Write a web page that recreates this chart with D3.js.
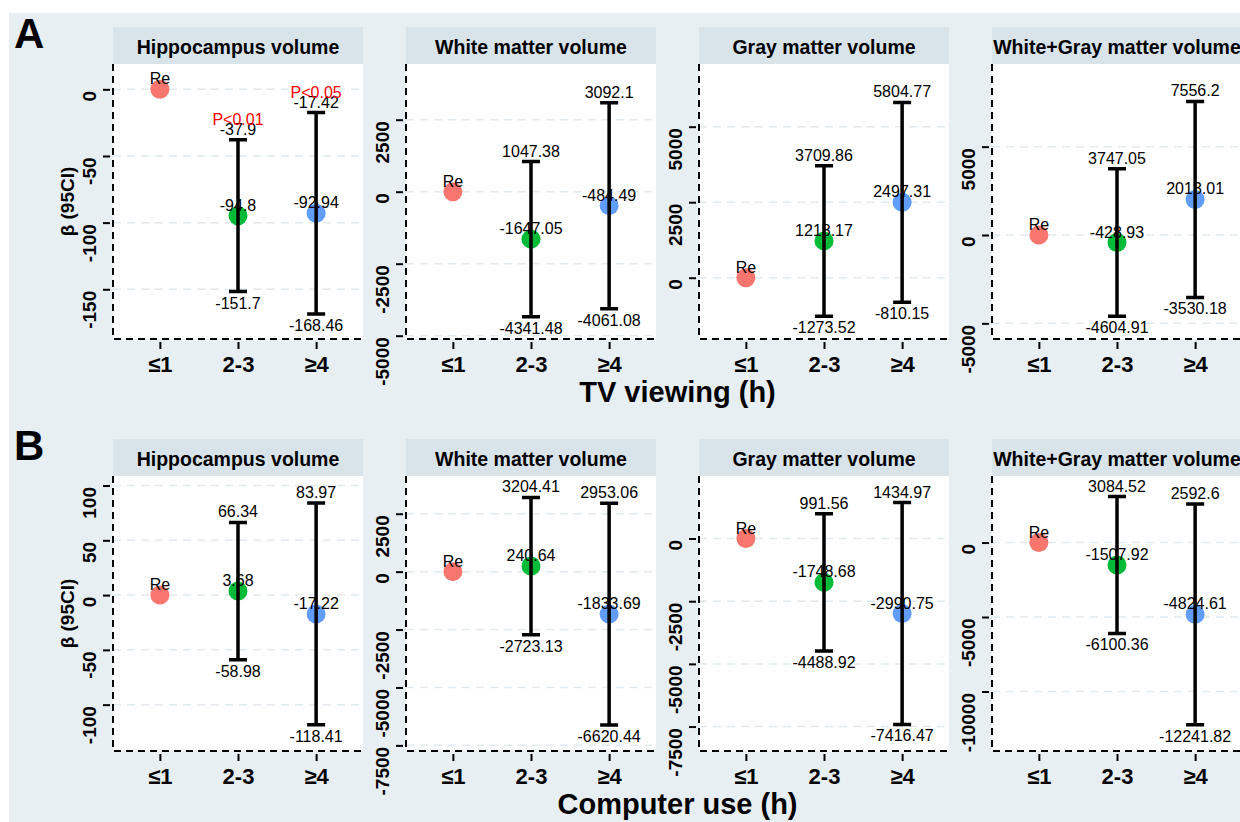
<!DOCTYPE html>
<html>
<head>
<meta charset="utf-8">
<script src="https://cdn.jsdelivr.net/npm/d3@7"></script>
<style>
body { margin: 0; background: #fff; }
text { font-family: "Liberation Sans", Arial, sans-serif; }
</style>
</head>
<body>
<svg id="chart" width="1240" height="822"></svg>
<script>
var svg = d3.select("#chart");

// categories and series
var categories = ["≤1", "2-3", "≥4"];
var pointColors = ["#F8766D", "#00BA38", "#619CFF"];
var outcomes = ["Hippocampus volume", "White matter volume", "Gray matter volume", "White+Gray matter volume"];

// TV viewing: beta, lower and upper 95% CI (reference group has no CI)
var tvEst  = [[0, -94.8, -92.94], [0, -1647.05, -484.49], [0, 1218.17, 2497.31], [0, -428.93, 2013.01]];
var tvLow  = [[null, -151.7, -168.46], [null, -4341.48, -4061.08], [null, -1273.52, -810.15], [null, -4604.91, -3530.18]];
var tvHigh = [[null, -37.9, -17.42], [null, 1047.38, 3092.1], [null, 3709.86, 5804.77], [null, 3747.05, 7556.2]];
var tvP    = [[null, "P<0.01", "P<0.05"], [null, null, null], [null, null, null], [null, null, null]];

// Computer use
var pcEst  = [[0, 3.68, -17.22], [0, 240.64, -1833.69], [0, -1748.68, -2990.75], [0, -1507.92, -4824.61]];
var pcLow  = [[null, -58.98, -118.41], [null, -2723.13, -6620.44], [null, -4488.92, -7416.47], [null, -6100.36, -12241.82]];
var pcHigh = [[null, 66.34, 83.97], [null, 3204.41, 2953.06], [null, 991.56, 1434.97], [null, 3084.52, 2592.6]];
var pcP    = [[null, null, null], [null, null, null], [null, null, null], [null, null, null]];

// y scale limits (top, bottom) and tick labels for each facet
var tvDomains = [[19, -187.3], [4434, -5115], [7076, -2030], [9678, -5886]];
var pcDomains = [[108.7, -142.3], [4129, -7743], [2494, -8475], [4468, -13996]];
var tvTicks = [[0, -50, -100, -150], [2500, 0, -2500, -5000], [5000, 2500, 0], [5000, 0, -5000]];
var pcTicks = [[100, 50, 0, -50, -100], [2500, 0, -2500, -5000, -7500], [0, -2500, -5000, -7500], [0, -5000, -10000]];

var rows = [
  {letter: "A", title: "TV viewing (h)", est: tvEst, low: tvLow, high: tvHigh, p: tvP, domains: tvDomains, ticks: tvTicks, top: 27},
  {letter: "B", title: "Computer use (h)", est: pcEst, low: pcLow, high: pcHigh, p: pcP, domains: pcDomains, ticks: pcTicks, top: 439}
];

var panelW = 250, stripH = 37, plotH = 275, panelStep = 293, firstLeft = 113;
var dash = "7,5";

// background
svg.append("rect")
    .attr("x", 9).attr("y", 13)
    .attr("width", 1231).attr("height", 809)
    .attr("fill", "#e8eff2");

rows.forEach(function(row) {
  svg.append("text")
      .attr("x", 14)
      .attr("y", row.top + 21)
      .attr("font-size", 42)
      .attr("font-weight", "bold")
      .text(row.letter);

  svg.append("text")
      .attr("x", firstLeft + (3 * panelStep + panelW) / 2)
      .attr("y", row.top + stripH + plotH + 63)
      .attr("text-anchor", "middle")
      .attr("font-size", 29)
      .attr("font-weight", "bold")
      .text(row.title);

  outcomes.forEach(function(outcome, i) {
    var g = svg.append("g")
        .attr("transform", "translate(" + (firstLeft + i * panelStep) + "," + row.top + ")");

    var x = d3.scalePoint()
        .domain(categories)
        .range([0, panelW])
        .padding(0.6);

    var y = d3.scaleLinear()
        .domain(row.domains[i])
        .range([stripH, stripH + plotH]);

    var data = categories.map(function(c, j) {
      return {cat: c, col: pointColors[j], est: row.est[i][j], low: row.low[i][j], high: row.high[i][j], p: row.p[i][j]};
    });

    // strip
    g.append("rect")
        .attr("width", panelW).attr("height", stripH)
        .attr("fill", "#d8e4ea");
    g.append("text")
        .attr("x", panelW / 2).attr("y", 27)
        .attr("text-anchor", "middle")
        .attr("font-size", 19.5)
        .attr("font-weight", "bold")
        .text(outcome);

    // panel
    g.append("rect")
        .attr("y", stripH)
        .attr("width", panelW).attr("height", plotH)
        .attr("fill", "#fff");

    g.selectAll(".grid")
      .data(row.ticks[i])
      .enter().append("line")
        .attr("class", "grid")
        .attr("x1", 0).attr("x2", panelW)
        .attr("y1", function(d) { return y(d); })
        .attr("y2", function(d) { return y(d); })
        .attr("stroke", "#e1eaee")
        .attr("stroke-width", 1.5)
        .attr("stroke-dasharray", "8,6");

    // y axis
    var yAxis = g.append("g")
        .call(d3.axisLeft(y).tickValues(row.ticks[i]).tickSize(10).tickFormat(function(d) { return String(d); }));
    yAxis.select(".domain").remove();
    yAxis.selectAll(".tick line")
        .attr("x1", -10).attr("x2", 0)
        .attr("stroke", "#000")
        .attr("stroke-width", 2)
        .attr("stroke-dasharray", dash);
    yAxis.selectAll(".tick text")
        .attr("x", null).attr("dy", null)
        .attr("transform", "translate(-17,1) rotate(-90)")
        .attr("text-anchor", "end")
        .attr("fill", "#000")
        .attr("font-family", "Liberation Sans, Arial, sans-serif")
        .attr("font-size", 19)
        .attr("font-weight", "bold");

    // x axis
    var xAxis = g.append("g")
        .attr("transform", "translate(0," + (stripH + plotH) + ")")
        .call(d3.axisBottom(x).tickSize(10).tickPadding(0));
    xAxis.select(".domain").remove();
    xAxis.selectAll(".tick line")
        .attr("y1", 10).attr("y2", 0)
        .attr("stroke", "#000")
        .attr("stroke-width", 2)
        .attr("stroke-dasharray", dash);
    xAxis.selectAll(".tick text")
        .attr("y", 33).attr("dy", null)
        .attr("fill", "#000")
        .attr("font-family", "Liberation Sans, Arial, sans-serif")
        .attr("font-size", 22)
        .attr("font-weight", "bold");

    // dashed axis lines
    g.append("path")
        .attr("d", "M0," + stripH + "V" + (stripH + plotH) + "H" + panelW)
        .attr("fill", "none")
        .attr("stroke", "#000")
        .attr("stroke-width", 2)
        .attr("stroke-dasharray", dash);

    if (i === 0) {
      g.append("text")
          .attr("transform", "translate(-39," + (stripH + plotH / 2) + ") rotate(-90)")
          .attr("text-anchor", "middle")
          .attr("font-size", 19)
          .attr("font-weight", "bold")
          .text("β (95CI)");
    }

    // points
    g.selectAll(".pt")
      .data(data)
      .enter().append("circle")
        .attr("class", "pt")
        .attr("cx", function(d) { return x(d.cat); })
        .attr("cy", function(d) { return y(d.est); })
        .attr("r", 9.5)
        .attr("fill", function(d) { return d.col; });

    var ci = data.filter(function(d) { return d.low !== null; });

    // error bars
    g.selectAll(".eb")
      .data(ci)
      .enter().append("path")
        .attr("class", "eb")
        .attr("d", function(d) {
          var cx = x(d.cat), lo = y(d.low), hi = y(d.high);
          return "M" + (cx - 9) + "," + hi + "H" + (cx + 9) +
                 "M" + cx + "," + hi + "V" + lo +
                 "M" + (cx - 9) + "," + lo + "H" + (cx + 9);
        })
        .attr("fill", "none")
        .attr("stroke", "#000")
        .attr("stroke-width", 3.5);

    // labels
    g.selectAll(".lab-est")
      .data(data)
      .enter().append("text")
        .attr("class", "lab-est")
        .attr("x", function(d) { return x(d.cat); })
        .attr("y", function(d) { return y(d.est) - 5; })
        .attr("text-anchor", "middle")
        .attr("font-size", 16)
        .text(function(d) { return d.low === null ? "Re" : String(d.est); });

    g.selectAll(".lab-hi")
      .data(ci)
      .enter().append("text")
        .attr("class", "lab-hi")
        .attr("x", function(d) { return x(d.cat); })
        .attr("y", function(d) { return y(d.high) - 5; })
        .attr("text-anchor", "middle")
        .attr("font-size", 16)
        .text(function(d) { return String(d.high); });

    g.selectAll(".lab-lo")
      .data(ci)
      .enter().append("text")
        .attr("class", "lab-lo")
        .attr("x", function(d) { return x(d.cat); })
        .attr("y", function(d) { return y(d.low) + 17; })
        .attr("text-anchor", "middle")
        .attr("font-size", 16)
        .text(function(d) { return String(d.low); });

    g.selectAll(".lab-p")
      .data(ci.filter(function(d) { return d.p; }))
      .enter().append("text")
        .attr("class", "lab-p")
        .attr("x", function(d) { return x(d.cat); })
        .attr("y", function(d) { return y(d.high) - 15; })
        .attr("text-anchor", "middle")
        .attr("font-size", 16)
        .attr("fill", "#ff0000")
        .text(function(d) { return d.p; });
  });
});
</script>
</body>
</html>
